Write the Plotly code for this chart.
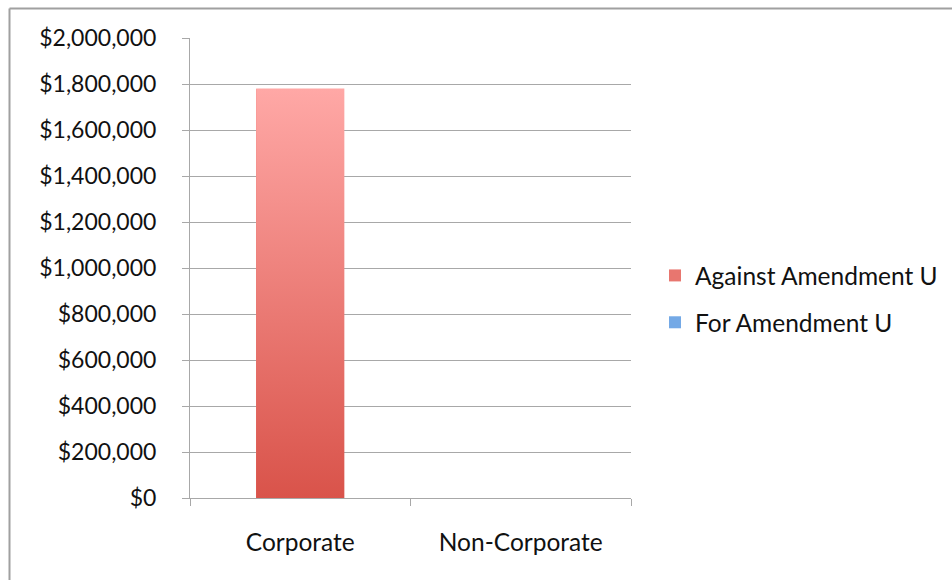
import plotly.graph_objects as go

# Contributions by donor type
categories = ["Corporate", "Non-Corporate"]
against_amendment = [1780000, 0]
for_amendment = [0, 0]
series_names = ["Against Amendment U", "For Amendment U"]
y_ticks = list(range(0, 2000001, 200000))

W, H = 952, 580
M_L, M_R, M_T, M_B = 190, 321, 38, 82
BAR_W = 0.4
FONT = "Lato"
TXT = "#111111"
GRID = "#a8a8a8"

RED_TOP, RED_BOT = "#ffa8a6", "#d9534a"
BLUE_TOP, BLUE_BOT = "#9cc4f0", "#4a8fd9"

fig = go.Figure()

fig.add_trace(go.Bar(
    x=categories, y=against_amendment, name=series_names[0],
    width=BAR_W, marker=dict(color="#e8766f", line=dict(width=0)),
    legendgroup="a",
))
fig.add_trace(go.Bar(
    x=categories, y=for_amendment, name=series_names[1],
    width=BAR_W, marker=dict(color="#74a9e6", line=dict(width=0)),
    legendgroup="b",
))

# Vertical shading laid over each non-zero column, built from the same values
def shaded_columns(values, bottom, top):
    for i, v in enumerate(values):
        if v <= 0:
            continue
        xs = [i - BAR_W / 2, i + BAR_W / 2, i + BAR_W / 2, i - BAR_W / 2, i - BAR_W / 2]
        ys = [0, 0, v, v, 0]
        fig.add_trace(go.Scatter(
            x=xs, y=ys, xaxis="x2", yaxis="y", mode="none", fill="toself",
            fillgradient=dict(type="vertical", colorscale=[[0, bottom], [1, top]]),
            showlegend=False, hoverinfo="skip",
        ))

shaded_columns(against_amendment, RED_BOT, RED_TOP)
shaded_columns(for_amendment, BLUE_BOT, BLUE_TOP)

pw = W - M_L - M_R
ph = H - M_T - M_B

def px_x(p):
    return (p - M_L) / pw

def px_y(p):
    return (H - M_B - p) / ph

shapes = [
    dict(type="line", xref="paper", yref="paper", x0=px_x(9.5), x1=px_x(W + 5),
         y0=px_y(8.5), y1=px_y(8.5), line=dict(color="#a0a0a0", width=2)),
    dict(type="line", xref="paper", yref="paper", x0=px_x(9.5), x1=px_x(9.5),
         y0=px_y(8.5), y1=px_y(H + 5), line=dict(color="#a0a0a0", width=2)),
]

fig.update_layout(
    width=W, height=H,
    margin=dict(l=M_L, r=M_R, t=M_T, b=M_B, autoexpand=False),
    paper_bgcolor="white", plot_bgcolor="white",
    barmode="stack",
    font=dict(family=FONT, size=24, color=TXT),
    xaxis=dict(
        type="category", range=[-0.5, 1.5], tickson="boundaries",
        ticks="outside", ticklen=7, tickcolor=GRID, tickwidth=1,
        showline=True, linecolor=GRID, linewidth=1, showgrid=False,
        ticklabelstandoff=23, zeroline=False,
        tickfont=dict(family=FONT, size=24.5, color=TXT),
    ),
    xaxis2=dict(overlaying="x", range=[-0.5, 1.5], visible=False),
    yaxis=dict(
        range=[0, 2000000], tickvals=y_ticks, tickformat="$,.0f",
        ticks="outside", ticklen=7, tickcolor=GRID, tickwidth=1,
        showline=True, linecolor=GRID, linewidth=1,
        showgrid=True, gridcolor=GRID, gridwidth=1, zeroline=False,
        ticklabelstandoff=21,
        tickfont=dict(family=FONT, size=23, color=TXT),
    ),
    legend=dict(
        xref="container", yref="container",
        x=655 / W, y=1 - 253 / H, xanchor="left", yanchor="top",
        font=dict(family=FONT, size=24.5, color=TXT),
        tracegroupgap=12, itemwidth=30,
    ),
    shapes=shapes,
    showlegend=True,
)

fig.write_html("out.html")
